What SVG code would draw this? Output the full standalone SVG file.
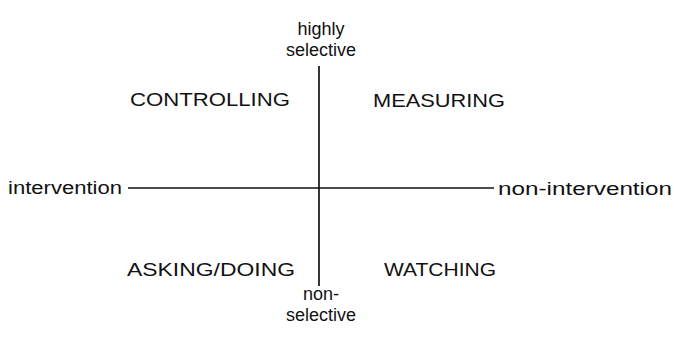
<svg xmlns="http://www.w3.org/2000/svg" width="674" height="337" viewBox="0 0 674 337">
<style>
text{font-family:"Liberation Sans",Arial,sans-serif;font-size:18px;fill:#111}
.c{text-anchor:middle}
.ax{stroke:#111;stroke-width:1.7;fill:none}
</style>
<rect width="674" height="337" fill="#fff"/>
<g id="connectors">
<line class="ax" x1="319" y1="66" x2="319" y2="286"/>
<line class="ax" x1="128" y1="188" x2="494" y2="188"/>
</g>
<g id="top"><text class="c" x="321" y="35">highly</text><text class="c" x="321" y="56">selective</text></g>
<g id="bottom"><text class="c" x="321" y="300">non-</text><text class="c" x="321" y="321">selective</text></g>
<g id="left"><text x="8" y="194" textLength="114" lengthAdjust="spacingAndGlyphs">intervention</text></g>
<g id="right"><text x="498" y="195" textLength="174" lengthAdjust="spacingAndGlyphs">non-intervention</text></g>
<g id="controlling"><text x="130" y="106" textLength="160" lengthAdjust="spacingAndGlyphs">CONTROLLING</text></g>
<g id="measuring"><text x="373" y="107" textLength="132" lengthAdjust="spacingAndGlyphs">MEASURING</text></g>
<g id="asking"><text x="127" y="276" textLength="168" lengthAdjust="spacingAndGlyphs">ASKING/DOING</text></g>
<g id="watching"><text x="384" y="276" textLength="112" lengthAdjust="spacingAndGlyphs">WATCHING</text></g>
</svg>
